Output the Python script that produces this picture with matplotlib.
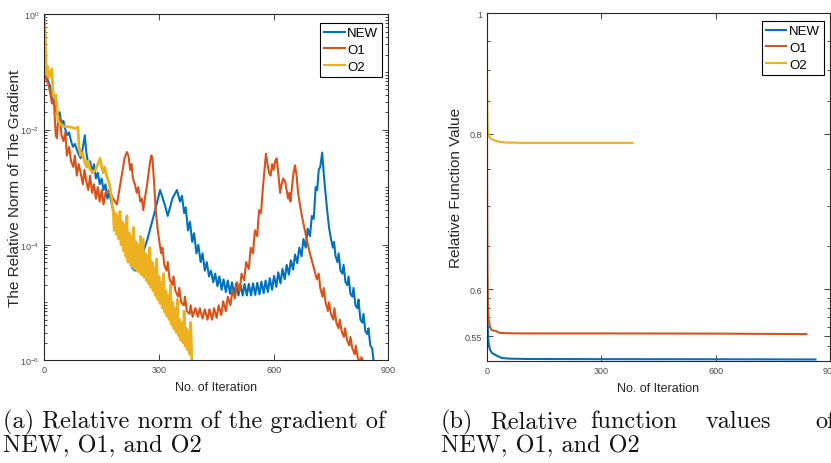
import numpy as np
import matplotlib
matplotlib.use("Agg")
import matplotlib.pyplot as plt
from matplotlib import font_manager as fm
from matplotlib.ticker import FixedLocator, NullFormatter, FixedFormatter

# ---------------- data ----------------
# Left panel: relative gradient norm, stored as log10 values
new_it = [0, 3, 6, 10, 15, 20, 25, 30, 35, 40, 45, 50, 55, 60, 65, 70, 75, 80, 88, 95,
          100, 106, 110, 115, 120, 125, 130, 135, 140, 145, 150, 155, 160, 165, 170,
          180, 190, 200, 210, 220, 230, 238, 250, 260, 270, 280, 290, 303, 315, 323,
          335, 347, 355, 360, 366, 370, 376, 381, 387, 392, 398, 403, 409, 414, 420,
          425, 431, 436, 442, 447, 453, 458, 464, 469, 475, 480, 486, 491, 497, 502,
          508, 513, 519, 524, 530, 535, 541, 546, 552, 557, 563, 568, 574, 579, 585,
          590, 596, 601, 607, 612, 618, 623, 629, 634, 640, 645, 651, 656, 662, 667,
          673, 678, 684, 689, 695, 700, 705, 710, 714, 718, 722, 727, 731, 735, 740,
          745, 750, 755, 758, 762, 767, 770, 775, 780, 783, 788, 793, 796, 801, 806,
          809, 814, 819, 822, 827, 832, 835, 840, 845, 848, 853, 858, 862]
new_lg = [0, -0.9, -1.1, -1.15, -1.25, -1.45, -1.5, -1.65, -1.75, -1.7, -1.9, -1.85, -2.0,
          -2.1, -2.05, -2.2, -2.3, -2.25, -2.4, -2.5, -2.35, -2.1, -2.4, -2.6, -2.55,
          -2.75, -2.6, -2.85, -2.75, -2.95, -2.85, -3.05, -2.95, -3.2, -3.1, -3.4, -3.6,
          -3.85, -4.1, -4.2, -4.4, -4.45, -4.3, -4.1, -3.9, -3.65, -3.4, -3.05, -3.3,
          -3.5, -3.2, -3.05, -3.25, -3.15, -3.45, -3.35, -3.75, -3.6, -3.95, -3.8,
          -4.15, -4.0, -4.3, -4.15, -4.45, -4.3, -4.55, -4.45, -4.65, -4.5, -4.72,
          -4.55, -4.78, -4.6, -4.82, -4.62, -4.85, -4.65, -4.87, -4.67, -4.88, -4.68,
          -4.88, -4.68, -4.88, -4.68, -4.88, -4.67, -4.87, -4.66, -4.86, -4.64, -4.84,
          -4.62, -4.82, -4.58, -4.78, -4.54, -4.73, -4.48, -4.67, -4.42, -4.6, -4.35,
          -4.52, -4.27, -4.43, -4.17, -4.32, -4.05, -4.2, -3.9, -4.05, -3.72, -3.85,
          -3.5, -3.55, -3.0, -3.05, -2.7, -2.65, -2.4, -2.75, -3.05, -3.4, -3.7, -3.9,
          -4.05, -3.95, -4.2, -4.3, -4.15, -4.45, -4.5, -4.35, -4.65, -4.7, -4.55,
          -4.85, -4.9, -4.75, -5.05, -5.1, -4.95, -5.3, -5.35, -5.2, -5.5, -5.55, -5.45,
          -5.75, -5.8, -6.05]

o1_it = [0, 3, 6, 10, 15, 20, 25, 30, 33, 36, 41, 45, 50, 55, 59, 65, 70, 76, 80, 85,
         90, 95, 101, 105, 110, 115, 120, 125, 130, 135, 140, 145, 150, 155, 160, 170,
         180, 190, 195, 200, 205, 210, 216, 220, 225, 228, 232, 237, 242, 246, 251, 255,
         259, 263, 268, 272, 276, 280, 283, 287, 291, 296, 301, 306, 309, 314, 320, 323,
         328, 335, 338, 343, 350, 353, 358, 365, 368, 373, 380, 383, 388, 395, 402, 407,
         414, 420, 427, 432, 439, 444, 451, 456, 463, 468, 475, 480, 487, 492, 499, 504,
         511, 516, 523, 528, 535, 540, 546, 551, 557, 562, 567, 572, 576, 580, 584, 588,
         592, 596, 600, 604, 608, 612, 617, 621, 625, 630, 634, 638, 641, 644, 648, 652,
         656, 660, 664, 670, 677, 688, 695, 705, 713, 718, 722, 728, 731, 736, 742, 745,
         750, 756, 759, 764, 770, 773, 778, 784, 787, 792, 798, 801, 806, 812, 815, 820,
         826, 830, 838]
o1_lg = [0, -0.85, -1.15, -1.2, -1.35, -1.55, -1.5, -2.1, -2.15, -1.85, -1.8, -2.1, -2.2,
         -2.05, -2.45, -2.3, -2.55, -2.65, -2.45, -2.8, -2.6, -2.75, -2.95, -2.7, -2.9,
         -3.05, -2.8, -3.1, -2.95, -3.2, -3.0, -3.25, -3.05, -3.3, -3.1, -3.05, -3.2,
         -3.3, -3.1, -2.9, -2.7, -2.5, -2.39, -2.45, -2.7, -2.6, -2.85, -2.95, -3.1,
         -3.0, -3.25, -3.2, -3.4, -3.2, -3.0, -2.8, -2.6, -2.45, -2.5, -2.9, -3.35,
         -3.7, -3.95, -4.15, -4.05, -4.35, -4.45, -4.3, -4.6, -4.7, -4.55, -4.8, -4.9,
         -4.75, -5.0, -5.05, -4.9, -5.15, -5.2, -5.05, -5.25, -5.1, -5.25, -5.1, -5.28,
         -5.12, -5.3, -5.12, -5.3, -5.1, -5.27, -5.05, -5.22, -4.98, -5.15, -4.9, -5.05,
         -4.8, -4.93, -4.65, -4.8, -4.5, -4.62, -4.3, -4.42, -4.05, -4.15, -3.75, -3.85,
         -3.4, -3.45, -3.0, -2.7, -2.42, -2.6, -2.75, -2.8, -2.6, -2.7, -2.55, -2.5,
         -2.75, -3.1, -2.95, -2.85, -2.9, -3.05, -3.2, -3.1, -3.25, -3.0, -2.75, -2.62,
         -2.8, -3.1, -3.35, -3.6, -3.95, -4.15, -4.4, -4.6, -4.5, -4.75, -4.9, -4.75,
         -5.0, -5.15, -5.0, -5.2, -5.3, -5.1, -5.35, -5.45, -5.3, -5.5, -5.6, -5.45,
         -5.65, -5.75, -5.6, -5.8, -5.9, -5.75, -5.95, -6.05, -5.95, -6.1]

o2_it = [0, 2, 4, 6, 8, 12, 16, 20, 23, 27, 30, 33, 36, 42, 49, 60, 70, 80, 88, 91, 95,
         100, 105, 111, 115, 120, 128, 134, 140, 146, 150, 154, 158, 163, 168, 172, 176,
         180, 183, 186, 189, 192, 195, 198, 201, 204, 207, 210, 213, 216, 219, 222, 225,
         228, 231, 234, 237, 240, 243, 246, 249, 252, 255, 258, 261, 264, 267, 270, 273,
         276, 279, 282, 285, 288, 291, 294, 297, 300, 303, 306, 309, 312, 315, 318, 321,
         324, 327, 330, 333, 336, 339, 342, 345, 348, 351, 354, 357, 360, 363, 366, 369,
         372, 375, 378, 381, 383, 386]
o2_lg = [0, -0.3, -0.75, -1.05, -0.9, -1.1, -1.0, -0.95, -1.4, -1.45, -1.4, -1.6, -1.85,
         -1.9, -1.94, -1.95, -1.96, -1.98, -1.96, -2.3, -2.45, -2.4, -2.55, -2.65, -2.55,
         -2.7, -2.74, -2.7, -2.6, -2.5, -2.65, -2.75, -2.65, -2.8, -2.9, -3.0, -3.2,
         -3.4, -3.75, -3.45, -3.82, -3.5, -3.9, -3.42, -4.0, -3.6, -4.1, -3.65, -4.2,
         -3.5, -4.3, -3.8, -4.33, -3.85, -4.38, -3.7, -4.42, -3.95, -4.45, -4.0, -4.48,
         -3.85, -4.52, -3.9, -4.56, -4.15, -4.62, -4.2, -4.68, -4.05, -4.74, -4.3, -4.8,
         -4.4, -4.88, -4.25, -4.95, -4.55, -5.02, -4.65, -5.1, -4.5, -5.17, -4.8, -5.24,
         -4.88, -5.3, -4.7, -5.38, -5.0, -5.45, -5.1, -5.52, -4.95, -5.58, -5.3, -5.65,
         -5.35, -5.7, -5.15, -5.76, -5.45, -5.82, -5.5, -5.9, -5.35, -6.0]

# Right panel: relative function value
fnew_it = [0, 1, 2, 4, 6, 10, 15, 25, 39, 60, 100, 300, 600, 862]
fnew_v = [1.0, 0.62, 0.569, 0.548, 0.540, 0.5355, 0.533, 0.531, 0.5285, 0.5278, 0.5275,
          0.5273, 0.5272, 0.527]
fo1_it = [0, 1, 2, 3, 5, 8, 12, 18, 25, 34, 50, 100, 300, 600, 838]
fo1_v = [1.0, 0.75, 0.62, 0.585, 0.5685, 0.561, 0.5566, 0.556, 0.5553, 0.5536, 0.5532,
         0.553, 0.553, 0.5528, 0.5523]
fo2_it = [0, 1, 2, 3, 5, 10, 21, 35, 52, 100, 200, 383]
fo2_v = [1.0, 0.88, 0.82, 0.803, 0.797, 0.793, 0.790, 0.788, 0.787, 0.7865, 0.7865,
         0.7865]

names = ["NEW", "O1", "O2"]
colors = ["#0072BD", "#D95319", "#EDB120"]
xticks = [0, 300, 600, 900]

# ---------------- fonts ----------------
avail = {f.name for f in fm.fontManager.ttflist}
narrow = "Liberation Sans Narrow" if "Liberation Sans Narrow" in avail else "Liberation Sans"
plt.rcParams["font.family"] = [narrow, "DejaVu Sans"]
plt.rcParams["mathtext.fontset"] = "custom"
plt.rcParams["mathtext.rm"] = narrow
plt.rcParams["mathtext.it"] = narrow
plt.rcParams["mathtext.default"] = "regular"

axcol = "#262626"
tickcol = "#4a4a4a"

fig = plt.figure(figsize=(8.31, 4.64), dpi=100)
axL = fig.add_axes([44.3 / 831, 1 - 361 / 464, 344 / 831, 345.7 / 464])
axR = fig.add_axes([486.7 / 831, 1 - 361.7 / 464, 343.3 / 831, 347.7 / 464])

lws = [1.5, 1.5, 2.0]
for it, lg, c, n, w in [(new_it, new_lg, colors[0], names[0], lws[0]),
                        (o1_it, o1_lg, colors[1], names[1], lws[1]),
                        (o2_it, o2_lg, colors[2], names[2], lws[2])]:
    axL.plot(it, 10.0 ** np.asarray(lg), color=c, lw=w, label=n)

for it, v, c, n in [(fnew_it, fnew_v, colors[0], names[0]),
                    (fo1_it, fo1_v, colors[1], names[1]),
                    (fo2_it, fo2_v, colors[2], names[2])]:
    axR.plot(it, v, color=c, lw=1.5, label=n)

# left axis styling
axL.set_yscale("log")
axL.set_xlim(0, 900)
axL.set_ylim(1e-6, 1)
axL.yaxis.set_major_locator(FixedLocator([1e0, 1e-2, 1e-4, 1e-6]))
axL.yaxis.set_major_formatter(FixedFormatter([r"$10^{0}$", r"$10^{-2}$", r"$10^{-4}$", r"$10^{-6}$"]))
minorL = []
for e in range(-6, 0):
    for m in range(1, 10):
        if m == 1 and e % 2 == 0:
            continue
        minorL.append(m * 10.0 ** e)
axL.yaxis.set_minor_locator(FixedLocator(minorL))
axL.yaxis.set_minor_formatter(NullFormatter())

# right axis styling
axR.set_yscale("log")
axR.set_xlim(0, 900)
axR.set_ylim(0.5258, 1)
axR.yaxis.set_major_locator(FixedLocator([0.55, 0.6, 0.8, 1.0]))
axR.yaxis.set_major_formatter(FixedFormatter(["0.55", "0.6", "0.8", "1"]))
axR.yaxis.set_minor_locator(FixedLocator([0.54, 0.56, 0.57, 0.58, 0.59, 0.65, 0.7,
                                          0.75, 0.85, 0.9, 0.95]))
axR.yaxis.set_minor_formatter(NullFormatter())

for ax in (axL, axR):
    ax.set_xticks(xticks)
    ax.set_xticklabels([str(t) for t in xticks])
    ax.tick_params(which="both", direction="in", top=True, right=True, colors=axcol,
                   labelcolor=tickcol, labelsize=6.5, width=0.6)
    ax.tick_params(which="major", length=4, pad=3.5)
    ax.tick_params(which="minor", length=2.2)
    for s in ax.spines.values():
        s.set_color(axcol)
        s.set_linewidth(0.8)
    ax.set_xlabel("No. of Iteration", fontsize=9, color=axcol)
    ax.xaxis.set_label_coords(0.5, -0.062)

axL.set_ylabel("The Relative Norm of The Gradient", fontsize=11, color=axcol)
axL.yaxis.set_label_coords(-0.066, 0.5)
axR.set_ylabel("Relative Function Value", fontsize=11, color=axcol)
axR.yaxis.set_label_coords(-0.070, 0.5)

for ax, anchor in ((axL, (0.982, 0.975)), (axR, (0.9825, 0.977))):
    leg = ax.legend(loc="upper right", bbox_to_anchor=anchor, borderaxespad=0,
                    fontsize=9.5, handlelength=1.55, handletextpad=0.2,
                    labelspacing=0.35, borderpad=0.3, fancybox=False, framealpha=1)
    leg.get_frame().set_edgecolor("#000000")
    leg.get_frame().set_linewidth(0.8)
    for h in leg.get_lines():
        h.set_linewidth(1.5)

# captions
cap = dict(fontfamily="cmr10", fontsize=17.5, color="#111111", va="center", ha="left")
fig.text(3 / 831, 1 - 422 / 464, "(a) Relative norm of the gradient of", **cap)
fig.text(3 / 831, 1 - 446 / 464, "NEW, O1, and O2", **cap)
for word, xp in [("(b)", 441), ("Relative", 490), ("function", 590), ("values", 706), ("of", 815)]:
    fig.text(xp / 831, 1 - 422 / 464, word, **cap)
fig.text(441 / 831, 1 - 446 / 464, "NEW, O1, and O2", **cap)

fig.savefig("out.png", dpi=100)
